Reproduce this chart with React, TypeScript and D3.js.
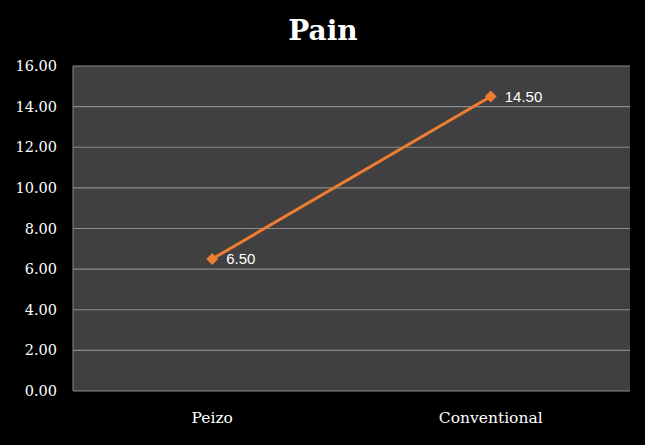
import React from "react";
import * as d3 from "d3";

const categories = ["Peizo", "Conventional"];
const values = [6.5, 14.5];
const yTicks = [0, 2, 4, 6, 8, 10, 12, 14, 16];
const title = "Pain";

export default function App() {
  const W = 645, H = 445;
  const m = { left: 73, right: 15, top: 66, bottom: 54 };
  const x = d3.scaleBand().domain(categories).range([m.left, W - m.right]);
  const y = d3.scaleLinear().domain([0, 16]).range([H - m.bottom, m.top]);
  const cx = (c: string) => (x(c) as number) + x.bandwidth() / 2;
  const line = d3.line<number>().x((_, i) => cx(categories[i])).y((d) => y(d));
  const diamond = d3.symbol().type(d3.symbolDiamond2).size(90)();
  const font = "'DejaVu Serif', serif";
  return (
    <svg width={W} height={H} style={{ position: "absolute", left: 0, top: 0, background: "#000" }}>
      <rect x={0} y={0} width={W} height={H} fill="#000" />
      <text x={323} y={40} textAnchor="middle" fill="#fff" fontFamily={font} fontWeight="bold" fontSize={28}>
        {title}
      </text>
      <rect x={m.left} y={m.top} width={W - m.left - m.right} height={H - m.top - m.bottom} fill="#404040" />
      {yTicks.map((t) => (
        <g key={t}>
          <line x1={m.left} x2={W - m.right} y1={y(t)} y2={y(t)} stroke="#8a8a8a" strokeWidth={1.2} />
          <text x={57} y={y(t)} dy="0.35em" textAnchor="end" fill="#fff" fontFamily={font} fontSize={14.5}>
            {t.toFixed(2)}
          </text>
        </g>
      ))}
      <line x1={m.left} x2={m.left} y1={m.top} y2={H - m.bottom} stroke="#8a8a8a" strokeWidth={1} />
      {categories.map((c) => (
        <text key={c} x={cx(c)} y={423} textAnchor="middle" fill="#fff" fontFamily={font} fontSize={15.5}>
          {c}
        </text>
      ))}
      <path d={line(values) || ""} fill="none" stroke="#ED7D31" strokeWidth={3} />
      {values.map((v, i) => (
        <g key={i}>
          <path d={diamond || ""} transform={`translate(${cx(categories[i])},${y(v)})`} fill="#ED7D31" />
          <text x={cx(categories[i]) + 14} y={y(v)} dy="0.35em" fill="#fff" fontFamily="'Liberation Sans', sans-serif" fontSize={15}>
            {v.toFixed(2)}
          </text>
        </g>
      ))}
    </svg>
  );
}
